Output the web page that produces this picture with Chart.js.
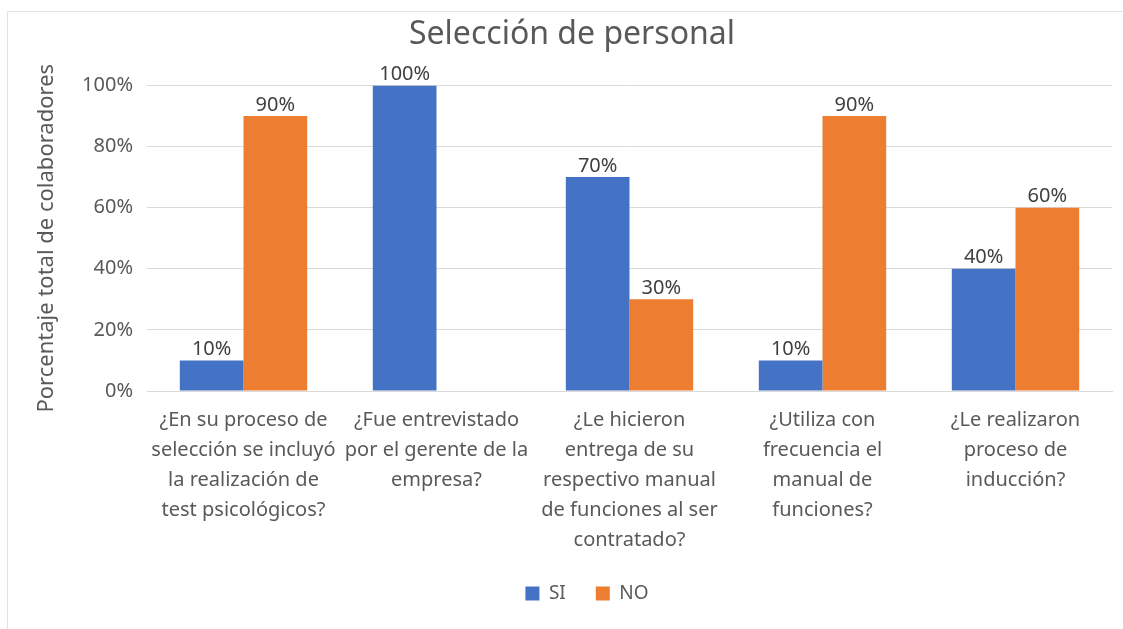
<!DOCTYPE html>
<html>
<head>
<meta charset="utf-8">
<script src="https://cdn.jsdelivr.net/npm/chart.js@4"></script>
<style>
  html, body { margin: 0; padding: 0; background: #fff; }
  #wrap { width: 1123px; height: 629px; position: relative; }
</style>
</head>
<body>
<div id="wrap"><canvas id="chart"></canvas></div>
<script>
const categories = [
  ['¿En su proceso de', 'selección se incluyó', 'la realización de', 'test psicológicos?'],
  ['¿Fue entrevistado', 'por el gerente de la', 'empresa?'],
  ['¿Le hicieron', 'entrega de su', 'respectivo manual', 'de funciones al ser', 'contratado?'],
  ['¿Utiliza con', 'frecuencia el', 'manual de', 'funciones?'],
  ['¿Le realizaron', 'proceso de', 'inducción?']
];
const siValues = [10, 100, 70, 10, 40];
const noValues = [90, 0, 30, 90, 60];

const textColor = '#595959';
const gridColor = '#d9d9d9';
const fontFamily = "'Noto Sans', 'Open Sans', sans-serif";

Chart.defaults.font.family = fontFamily;
Chart.defaults.color = textColor;

// draws the value above every non-zero bar
const barLabels = {
  id: 'barLabels',
  afterDatasetsDraw(chart) {
    const ctx = chart.ctx;
    ctx.save();
    ctx.font = `20px ${fontFamily}`;
    ctx.fillStyle = '#404040';
    ctx.textAlign = 'center';
    ctx.textBaseline = 'bottom';
    chart.data.datasets.forEach((ds, i) => {
      chart.getDatasetMeta(i).data.forEach((bar, j) => {
        if (!ds.data[j]) return;
        ctx.fillText(ds.data[j] + '%', bar.x, bar.y - 1);
      });
    });
    ctx.restore();
  }
};

// thin frame like the spreadsheet chart area; the original frame is wider
// than the window, so title and legend sit a bit right of the canvas centre
const frame = {
  id: 'frame',
  afterLayout(chart) {
    chart.titleBlock.left += 11;
    chart.titleBlock.right += 11;
    chart.legend.left += 26;
    chart.legend.right += 26;
  },
  beforeDraw(chart) {
    const ctx = chart.ctx;
    ctx.save();
    ctx.strokeStyle = '#e3e3e3';
    ctx.lineWidth = 1;
    ctx.beginPath();
    ctx.moveTo(7.5, chart.height);
    ctx.lineTo(7.5, 11.5);
    ctx.lineTo(chart.width, 11.5);
    ctx.stroke();
    ctx.restore();
  }
};

new Chart(document.getElementById('chart'), {
  type: 'bar',
  data: {
    labels: categories,
    datasets: [
      { label: 'SI', data: siValues, backgroundColor: '#4472C4' },
      { label: 'NO', data: noValues, backgroundColor: '#ED7D31' }
    ]
  },
  options: {
    responsive: true,
    maintainAspectRatio: false,
    animation: false,
    layout: { padding: { left: 10, right: 11, top: 16, bottom: 16 } },
    datasets: { bar: { barPercentage: 1, categoryPercentage: 0.66 } },
    plugins: {
      title: {
        display: true,
        text: 'Selección de personal',
        color: textColor,
        font: { size: 32, weight: 'normal' },
        padding: { top: 0, bottom: 31 }
      },
      legend: {
        position: 'bottom',
        labels: {
          boxWidth: 14,
          boxHeight: 14,
          padding: 30,
          color: textColor,
          font: { size: 19 }
        }
      },
      tooltip: { enabled: false }
    },
    scales: {
      x: {
        grid: { display: false },
        border: { color: gridColor },
        ticks: {
          maxRotation: 0,
          autoSkip: false,
          padding: 6,
          color: textColor,
          font: { size: 20, lineHeight: 1.5 }
        },
        afterFit: (scale) => { scale.height = 163; }
      },
      y: {
        min: 0,
        max: 100,
        border: { display: false },
        grid: { color: gridColor, drawTicks: false },
        ticks: {
          stepSize: 20,
          padding: 14,
          color: textColor,
          font: { size: 20 },
          callback: (v) => v + '%'
        },
        title: {
          display: true,
          text: 'Porcentaje total de colaboradores',
          color: textColor,
          font: { size: 22 },
          padding: { top: 24, bottom: 0 }
        },
        afterFit: (scale) => { scale.width = 137; }
      }
    }
  },
  plugins: [barLabels, frame]
});
</script>
</body>
</html>
